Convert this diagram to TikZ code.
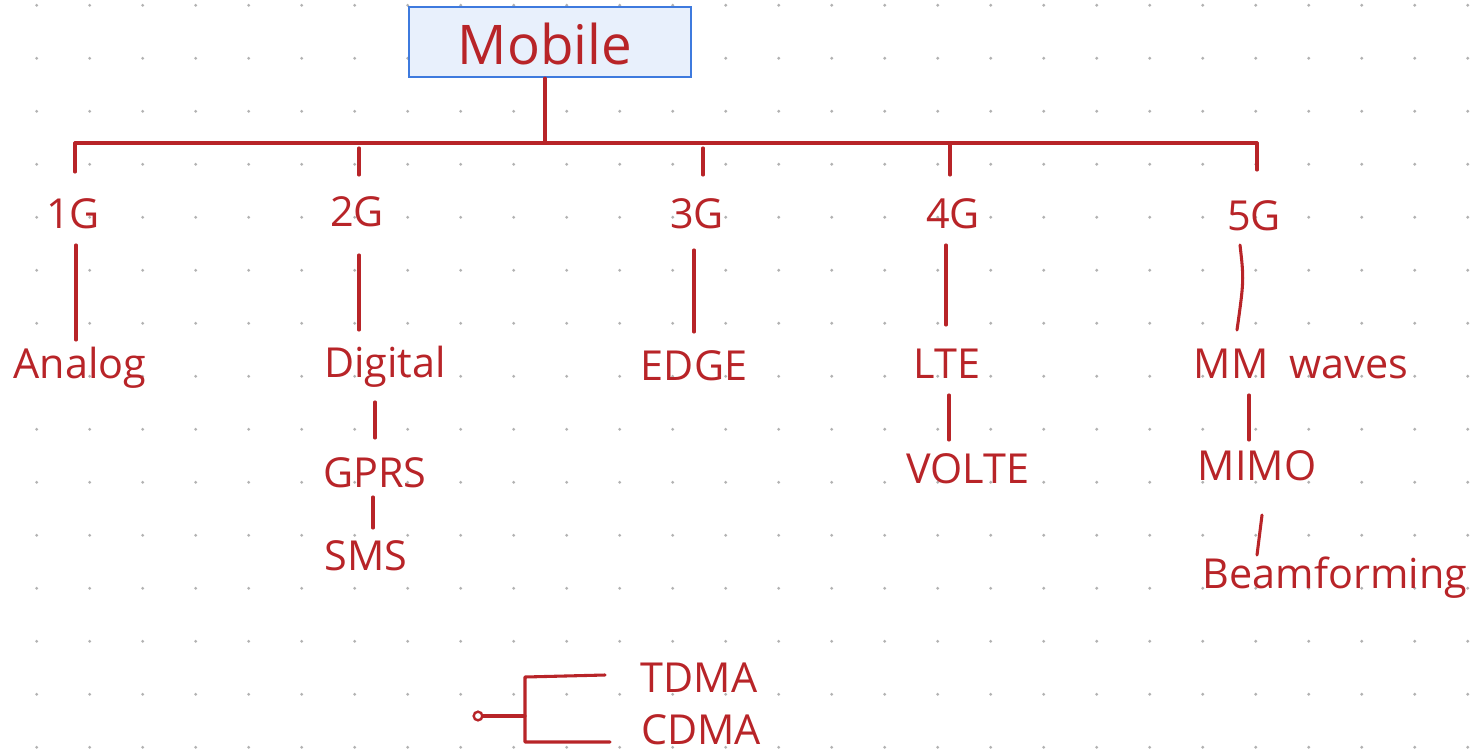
\documentclass[tikz,border=0pt]{standalone}
\usepackage{fontspec}
\setmainfont{Open Sans}
\usetikzlibrary{calc}
\definecolor{ink}{RGB}{184,36,40}
\definecolor{boxline}{RGB}{62,122,222}
\definecolor{boxfill}{RGB}{232,240,252}
\definecolor{dotc}{RGB}{178,178,178}
\begin{document}
\begin{tikzpicture}[x=0.75pt,y=-0.75pt,
  lbl/.style={text=ink, font=\fontsize{31}{34}\selectfont, inner sep=0pt, anchor=base},
  wire/.style={draw=ink, line width=2.3pt, line cap=round, line join=round},
  rootbox/.style={draw=boxline, fill=boxfill, line width=1.7pt, minimum width=211.5pt, minimum height=52.5pt, inner sep=0pt}]
\useasboundingbox (0,0) rectangle (1474,751);
\fill[white] (0,0) rectangle (1474,751);
\foreach \i in {0,...,27}{\foreach \j in {0,...,14}{\fill[dotc] (36.7+53*\i,5.3+53*\j) circle[radius=1.2pt];}}
% root
\node[rootbox] (mob) at (550,42) {};
\node[lbl, font=\fontsize{41}{44}\selectfont] (mobt) at (545,64) {Mobile};
% level 1
\node[lbl] (g1) at (73,228) {1G};
\node[lbl] (g2) at (357,226) {2G};
\node[lbl] (g3) at (697,228) {3G};
\node[lbl] (g4) at (953,228) {4G};
\node[lbl] (g5) at (1254,230) {5G};
% level 2
\node[lbl] (ana) at (80,378) {Analog};
\node[lbl] (dig) at (385,377) {Digital};
\node[lbl] (edge) at (694,380) {EDGE};
\node[lbl] (lte) at (947,378) {LTE};
\node[lbl] (mmw) at (1301,378) {MM\hspace{0.5em}waves};
% level 3+
\node[lbl] (gprs) at (375,487) {GPRS};
\node[lbl] (sms) at (366,570) {SMS};
\node[lbl] (volte) at (968,483) {VOLTE};
\node[lbl] (mimo) at (1257,480) {MIMO};
\node[lbl] (beam) at (1335,588) {Beamforming};
% bottom legend
\node[lbl] (tdma) at (699,692) {TDMA};
\node[lbl] (cdma) at (701,744) {CDMA};
\node[draw=ink, line width=1.8pt, circle, inner sep=0pt, minimum size=6.5pt] (dot) at (478,716) {};
% bar
\coordinate (jm) at (545,143);
\coordinate (j1) at (75,143);
\coordinate (j2) at (359,143);
\coordinate (j3) at (703,143);
\coordinate (j4) at (950,143);
\coordinate (j5) at (1257,143);
\draw[wire] ($(mob.south)+(-5,0)$) -- (jm);
\draw[wire] (j1) -- (j5);
\draw[wire] (j1) -- ($(g1.base)+(2,-56)$);
\draw[wire] ($(j2)+(0,5)$) -- ($(g2.base)+(2,-51)$);
\draw[wire] ($(j3)+(0,5)$) -- ($(g3.base)+(6,-53)$);
\draw[wire] (j4) -- ($(g4.base)+(-3,-53)$);
\draw[wire] (j5) -- ($(g5.base)+(3,-60)$);
% level 1 to 2
\draw[wire] ($(g1.base)+(3,17)$) -- ($(ana.base)+(-4,-38)$);
\draw[wire] ($(g2.base)+(2,29)$) -- ($(dig.base)+(-26,-47)$);
\draw[wire] ($(g3.base)+(-3,22)$) -- ($(edge.base)+(0,-48)$);
\draw[wire] ($(g4.base)+(-7,17)$) -- ($(lte.base)+(-1,-53)$);
\draw[wire] ($(g5.base)+(-14,15)$) .. controls ($(g5.base)+(-10,50)$) .. ($(mmw.base)+(-64,-48)$);
% deeper
\draw[wire] ($(dig.base)+(-10,25)$) -- ($(gprs.base)+(0,-49)$);
\draw[wire] ($(gprs.base)+(-2,10)$) -- ($(sms.base)+(7,-42)$);
\draw[wire] ($(lte.base)+(2,17)$) -- ($(volte.base)+(-19,-43)$);
\draw[wire] ($(mmw.base)+(-52,17)$) -- ($(mimo.base)+(-8,-40)$);
\draw[wire] ($(mimo.base)+(5,35)$) -- ($(beam.base)+(-78,-33)$);
% legend bracket
\coordinate (br) at (525,716);
\coordinate (brT) at (525,677);
\coordinate (brB) at (525,742);
\draw[wire] (dot) -- (br);
\draw[wire] ($(tdma.base)+(-94,-17)$) -- (brT) -- (brB) -- ($(cdma.base)+(-91,-2)$);
\end{tikzpicture}
\end{document}
